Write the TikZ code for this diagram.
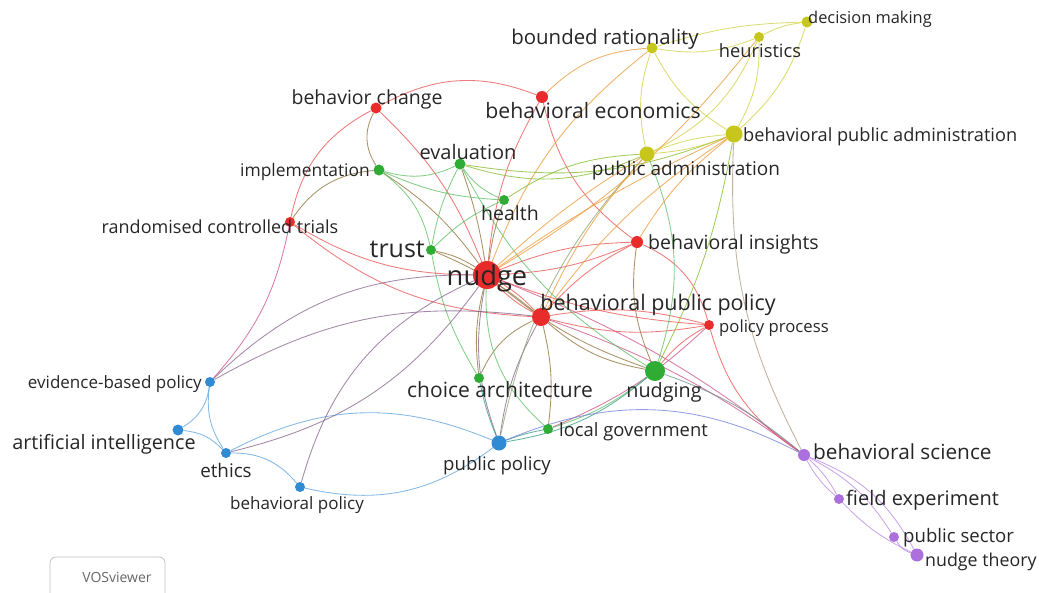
\documentclass[tikz,border=0pt]{standalone}
\usepackage{fontspec}
\setmainfont{Open Sans}
\newcommand\fz[1]{\fontsize{#1}{#1}\selectfont}
\pgfdeclarelayer{edges}
\pgfsetlayers{edges,main}
\definecolor{cR}{RGB}{232,44,44}
\definecolor{cG}{RGB}{46,172,52}
\definecolor{cY}{RGB}{198,198,28}
\definecolor{cB}{RGB}{48,138,212}
\definecolor{cP}{RGB}{172,112,222}
\colorlet{eR}{cR!85!white}
\colorlet{eG}{cG!80!white}
\colorlet{eY}{cY!85!white}
\colorlet{eB}{cB!80!white}
\colorlet{eP}{cP!85!white}
\colorlet{eRG}{cR!50!cG}
\definecolor{eRY}{RGB}{236,150,50}
\colorlet{eRB}{cR!45!cB}
\colorlet{eRP}{cR!50!cP}
\colorlet{eGY}{cG!45!cY}
\colorlet{eGB}{cG!50!cB}
\colorlet{eBP}{cB!50!cP}
\colorlet{eYP}{cY!50!cP!80!gray}
\colorlet{eGP}{cG!50!cP}
\colorlet{eBY}{cB!40!cY!70!gray}
\tikzset{
  ed/.style={line width=0.85pt, opacity=0.75, draw=#1},
  dot/.style={circle, fill=#1, inner sep=0pt},
  lbl/.style={inner sep=0pt, text=black!85},
}
\begin{document}
\begin{tikzpicture}[x=1pt,y=-1pt]
\useasboundingbox (0,0) rectangle (1039,592);
% ---------- nodes ----------
\node[dot=cR, minimum size=28pt] (nudge) at (487,275) {};
\node[dot=cR, minimum size=18pt] (bpp) at (541,317) {};
\node[dot=cR, minimum size=12pt] (bi) at (637,242) {};
\node[dot=cR, minimum size=10pt] (ppr) at (709,325) {};
\node[dot=cR, minimum size=12pt] (be) at (542,97) {};
\node[dot=cR, minimum size=11pt] (bc) at (376,108) {};
\node[dot=cR, minimum size=10pt] (rct) at (290,222) {};
\node[dot=cG, minimum size=11pt] (imp) at (379,170) {};
\node[dot=cG, minimum size=11pt] (eva) at (460,164) {};
\node[dot=cG, minimum size=10pt] (hea) at (504,200) {};
\node[dot=cG, minimum size=10pt] (tru) at (431,250) {};
\node[dot=cG, minimum size=10pt] (cha) at (479,378) {};
\node[dot=cG, minimum size=20pt] (ngg) at (655,371) {};
\node[dot=cG, minimum size=10pt] (lgov) at (548,429) {};
\node[dot=cY, minimum size=11pt] (br) at (652,48) {};
\node[dot=cY, minimum size=10pt] (heu) at (759,37) {};
\node[dot=cY, minimum size=11pt] (dm) at (807,22) {};
\node[dot=cY, minimum size=17pt] (bpa) at (734,134) {};
\node[dot=cY, minimum size=15pt] (pa) at (647,154) {};
\node[dot=cB, minimum size=10pt] (ebp) at (210,382) {};
\node[dot=cB, minimum size=11pt] (ai) at (178,430) {};
\node[dot=cB, minimum size=10pt] (eth) at (226,453) {};
\node[dot=cB, minimum size=10pt] (bpol) at (300,487) {};
\node[dot=cB, minimum size=15pt] (pub) at (499,443) {};
\node[dot=cP, minimum size=12pt] (bs) at (804,455) {};
\node[dot=cP, minimum size=10pt] (fe) at (839,499) {};
\node[dot=cP, minimum size=10pt] (ps) at (894,537) {};
\node[dot=cP, minimum size=13pt] (nt) at (917,555) {};
% ---------- edges ----------
\begin{pgfonlayer}{edges}
% red cluster
\draw[ed=eR] (bc) to[bend left=25] (be);
\draw[ed=eR] (bc) to[bend right=25] (rct);
\draw[ed=eR] (bc) to[bend left=12] (nudge);
\draw[ed=eR] (nudge) to[bend left=12] (be);
\draw[ed=eR] (be) to[bend right=20] (bi);
\draw[ed=eRY] (be) to[bend left=20] (br);
\draw[ed=eR] (rct) to[bend right=15] (nudge);
\draw[ed=eR] (rct) to[bend right=18] (bpp);
\draw[ed=eRP] (rct) to[bend left=15] (ebp);
\draw[ed=eR] (nudge) to[bend left=8] (bpp);
\draw[ed=eR] (nudge) to[bend right=8] (bpp);
\draw[ed=eR] (nudge) to[bend left=10] (bi);
\draw[ed=eR] (nudge) to[bend right=10] (bi);
\draw[ed=eR] (nudge) to[bend right=8] (ppr);
\draw[ed=eR] (bpp) to[bend left=10] (bi);
\draw[ed=eR] (bpp) to[bend left=12] (ppr);
\draw[ed=eR] (bpp) to[bend right=12] (ppr);
\draw[ed=eR] (bi) to[bend left=25] (ppr);
\draw[ed=eRG] (bi) to[bend right=15] (ngg);
\draw[ed=eR] (ppr) to[bend right=10] (ngg);
\draw[ed=eR] (ppr) to[bend right=20] (bs);
\draw[ed=eRP] (ppr) to[bend left=10] (lgov);
\draw[ed=eRP] (nudge) to[bend left=8] (bs);
\draw[ed=eRP] (bpp) to[bend left=8] (bs);
\draw[ed=eRG] (nudge) to[bend right=10] (ngg);
\draw[ed=eRG] (bpp) to[bend right=15] (ngg);
\draw[ed=eRG] (bpp) to[bend right=20] (cha);
\draw[ed=eRG] (nudge) to[bend right=10] (cha);
\draw[ed=eRB] (bpp) to[bend right=10] (pub);
\draw[ed=eRB] (nudge) to[bend right=15] (pub);
\draw[ed=eRG] (bpp) to[bend left=10] (lgov);
\draw[ed=eG] (nudge) to[bend right=25] (lgov);
% green cluster
\draw[ed=eRG] (tru) to[bend left=8] (bpp);
\draw[ed=eRG] (tru) to[bend left=10] (nudge);
\draw[ed=eRG] (imp) to[bend left=10] (nudge);
\draw[ed=eRG] (eva) to[bend left=5] (nudge);
\draw[ed=eRG] (hea) to[bend right=5] (nudge);
\draw[ed=eG] (imp) to[bend right=20] (eva);
\draw[ed=eG] (imp) to[bend right=10] (hea);
\draw[ed=eG] (imp) to[bend left=20] (tru);
\draw[ed=eRG] (imp) to[bend left=30] (bc);
\draw[ed=eRG] (imp) to[bend right=25] (rct);
\draw[ed=eG] (eva) to[bend right=8] (tru);
\draw[ed=eG] (eva) to[bend right=15] (hea);
\draw[ed=eGY] (eva) to[bend right=20] (pa);
\draw[ed=eGY] (eva) to[bend right=15] (bpa);
\draw[ed=eG] (eva) to[bend right=15] (ngg);
\draw[ed=eG] (hea) to[bend right=10] (tru);
\draw[ed=eGY] (hea) to[bend left=15] (pa);
\draw[ed=eG] (tru) to[bend right=10] (cha);
\draw[ed=eG] (ngg) to[bend right=20] (pa);
\draw[ed=eGY] (ngg) to[bend right=8] (bpa);
\draw[ed=eG] (ngg) to[bend left=10] (lgov);
\draw[ed=eGB] (ngg) to[bend left=15] (pub);
\draw[ed=eGP] (ngg) to[bend left=10] (bs);
% blue cluster
\draw[ed=eGB] (pub) to[bend left=5] (lgov);
\draw[ed=eBP] (pub) to[bend left=25] (bs);
\draw[ed=eB] (pub) to[bend right=25] (eth);
\draw[ed=eB] (pub) to[bend left=25] (bpol);
\draw[ed=eGB] (pub) to[bend left=5] (cha);
\draw[ed=eBY] (pub) to[bend left=15] (pa);
\draw[ed=eB] (ebp) to[bend left=25] (ai);
\draw[ed=eB] (ebp) to[bend right=20] (eth);
\draw[ed=eB] (ai) to[bend left=20] (eth);
\draw[ed=eB] (eth) to[bend left=25] (bpol);
\draw[ed=eRB] (ebp) to[bend left=22] (nudge);
\draw[ed=eRB] (ebp) to[bend left=18] (bpp);
\draw[ed=eRB] (eth) to[bend right=20] (nudge);
\draw[ed=eRB] (bpol) to[bend left=25] (nudge);
% yellow cluster
\draw[ed=eY] (br) to[bend right=15] (heu);
\draw[ed=eY] (br) to[bend left=8] (dm);
\draw[ed=eY] (br) to[bend right=15] (bpa);
\draw[ed=eY] (br) to[bend right=15] (pa);
\draw[ed=eY] (heu) to[bend left=10] (dm);
\draw[ed=eY] (heu) to[bend left=15] (bpa);
\draw[ed=eY] (heu) to[bend left=20] (pa);
\draw[ed=eRY] (heu) to[bend left=10] (nudge);
\draw[ed=eY] (dm) to[bend left=15] (bpa);
\draw[ed=eY] (bpa) to[bend left=8] (pa);
\draw[ed=eY] (bpa) to[bend right=8] (pa);
\draw[ed=eYP] (bpa) to[bend right=15] (bs);
\draw[ed=eRY] (bpa) to[bend right=5] (nudge);
\draw[ed=eRY] (bpa) to[bend right=10] (bpp);
\draw[ed=eRY] (bpa) to[bend right=10] (bi);
\draw[ed=eRY] (pa) to[bend right=5] (nudge);
\draw[ed=eRY] (pa) to[bend right=8] (bpp);
\draw[ed=eRY] (nudge) to[bend left=15] (br);
% purple cluster
\draw[ed=eP] (bs) to[bend right=10] (fe);
\draw[ed=eP] (bs) to[bend left=10] (fe);
\draw[ed=eP] (bs) to[bend left=15] (ps);
\draw[ed=eP] (bs) to[bend left=20] (nt);
\draw[ed=eP] (fe) to[bend right=10] (nt);
\draw[ed=eP] (ps) to[bend right=20] (nt);
\end{pgfonlayer}
% ---------- labels ----------
\node[lbl, font=\fz{27.3}, anchor=mid] (Lnudge) at (487,283) {nudge};
\node[lbl, font=\fz{21.5}, anchor=mid] (Lbpp) at (658,308) {behavioral public policy};
\node[lbl, font=\fz{19.5}, anchor=mid west] (Lbi) at (648,247) {behavioral insights};
\node[lbl, font=\fz{16.7}, anchor=mid west] (Lppr) at (719,330) {policy process};
\node[lbl, font=\fz{21.2}, anchor=mid] (Lbe) at (593,116) {behavioral economics};
\node[lbl, font=\fz{19.5}, anchor=mid] (Lbc) at (367,102) {behavior change};
\node[lbl, font=\fz{18}, anchor=mid] (Lrct) at (220,231) {randomised controlled trials};
\node[lbl, font=\fz{17.4}, anchor=mid east] (Limp) at (370,174) {implementation};
\node[lbl, font=\fz{20}, anchor=mid] (Leva) at (468,157) {evaluation};
\node[lbl, font=\fz{19.5}, anchor=mid] (Lhea) at (510,218) {health};
\node[lbl, font=\fz{25}, anchor=mid east] (Ltru) at (425,255) {trust};
\node[lbl, font=\fz{21}, anchor=mid] (Lcha) at (500,395) {choice architecture};
\node[lbl, font=\fz{19.8}, anchor=mid] (Lngg) at (664,395) {nudging};
\node[lbl, font=\fz{18.4}, anchor=mid west] (Llgov) at (559,434) {local government};
\node[lbl, font=\fz{20.4}, anchor=mid] (Lbr) at (605,42) {bounded rationality};
\node[lbl, font=\fz{18.3}, anchor=mid] (Lheu) at (760,55) {heuristics};
\node[lbl, font=\fz{16.4}, anchor=mid west] (Ldm) at (808,21) {decision making};
\node[lbl, font=\fz{18.2}, anchor=mid west] (Lbpa) at (743,139) {behavioral public administration};
\node[lbl, font=\fz{19}, anchor=mid] (Lpa) at (686,173) {public administration};
\node[lbl, font=\fz{17}, anchor=mid east] (Lebp) at (202,386) {evidence-based policy};
\node[lbl, font=\fz{19.8}, anchor=mid] (Lai) at (104,447) {artificial intelligence};
\node[lbl, font=\fz{18.8}, anchor=mid] (Leth) at (226,475) {ethics};
\node[lbl, font=\fz{17}, anchor=mid] (Lbpol) at (297,507) {behavioral policy};
\node[lbl, font=\fz{18.6}, anchor=mid] (Lpub) at (497,468) {public policy};
\node[lbl, font=\fz{20.8}, anchor=mid west] (Lbs) at (813,457) {behavioral science};
\node[lbl, font=\fz{20}, anchor=mid west] (Lfe) at (846,503) {field experiment};
\node[lbl, font=\fz{18.6}, anchor=mid west] (Lps) at (903,540) {public sector};
\node[lbl, font=\fz{17.8}, anchor=mid west] (Lnt) at (925,564) {nudge theory};
% VOSviewer box
\draw[black!25, line width=0.8pt, rounded corners=6pt] (50,600) -- (50,557) -- (165,557) -- (165,600);
\node[lbl, text=black!60, font=\fz{14}, anchor=mid] (Lvos) at (117,580) {VOSviewer};
\end{tikzpicture}
\end{document}
